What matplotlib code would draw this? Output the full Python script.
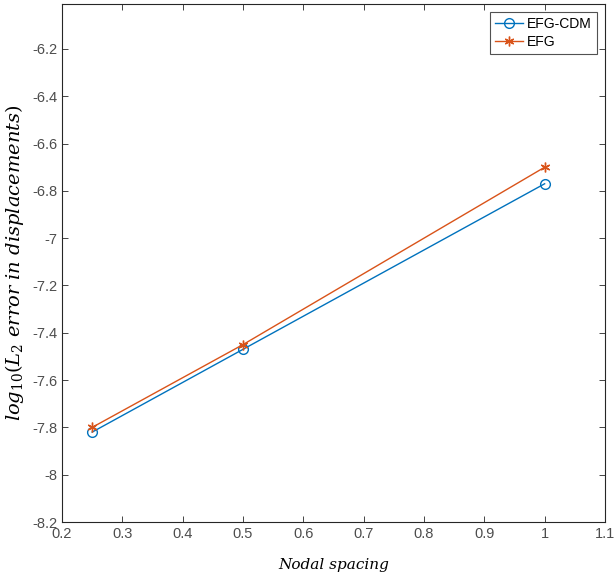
import matplotlib
matplotlib.use("Agg")
import matplotlib.pyplot as plt

spacing = [0.25, 0.5, 1.0]
efg_cdm = [-7.82, -7.47, -6.77]
efg = [-7.80, -7.45, -6.70]

xticks = [0.2, 0.3, 0.4, 0.5, 0.6, 0.7, 0.8, 0.9, 1.0, 1.1]
yticks = [-8.2, -8.0, -7.8, -7.6, -7.4, -7.2, -7.0, -6.8, -6.6, -6.4, -6.2]

plt.rcParams['font.family'] = ['Liberation Sans', 'DejaVu Sans']
plt.rcParams['mathtext.fontset'] = 'dejavuserif'

fig = plt.figure(figsize=(6.16, 5.72), dpi=100)
ax = fig.add_axes([0.1006, 0.0874, 0.8815, 0.9056])

ax.plot(spacing, efg_cdm, color=(0, 0.447, 0.741), lw=1.0, marker='o',
        ms=7, mfc='none', mew=1.0, label='EFG-CDM')
ax.plot(spacing, efg, color=(0.85, 0.325, 0.098), lw=1.0, marker=(6, 2, 0),
        ms=7, mew=1.0, label='EFG')

ax.set_xlim(0.2, 1.1)
ax.set_ylim(-8.2, -6.01)
ax.set_xticks(xticks)
ax.set_xticklabels(['0.2', '0.3', '0.4', '0.5', '0.6', '0.7', '0.8', '0.9', '1', '1.1'])
ax.set_yticks(yticks)
ax.set_yticklabels(['-8.2', '-8', '-7.8', '-7.6', '-7.4', '-7.2', '-7', '-6.8', '-6.6', '-6.4', '-6.2'])

grey = (0.15, 0.15, 0.15)
for s in ax.spines.values():
    s.set_color(grey)
    s.set_linewidth(0.8)
ax.tick_params(direction='in', top=True, right=True, length=4, width=0.6,
               colors=grey, labelsize=10.5, labelcolor=(0.3, 0.3, 0.3))

ax.set_xlabel('Nodal spacing', family='DejaVu Serif', style='italic', fontsize=11, labelpad=12)
ax.set_ylabel(r'$log_{10}(L_2\ error\ in\ displacements)$', fontsize=14, labelpad=4)

leg = ax.legend(loc='upper right', fontsize=10, frameon=True, fancybox=False,
                borderpad=0.35, handlelength=2.0, handletextpad=0.3, labelspacing=0.25,
                borderaxespad=0.6)
leg.get_frame().set_edgecolor(grey)
leg.get_frame().set_linewidth(0.8)

fig.savefig('out.png', dpi=100)
